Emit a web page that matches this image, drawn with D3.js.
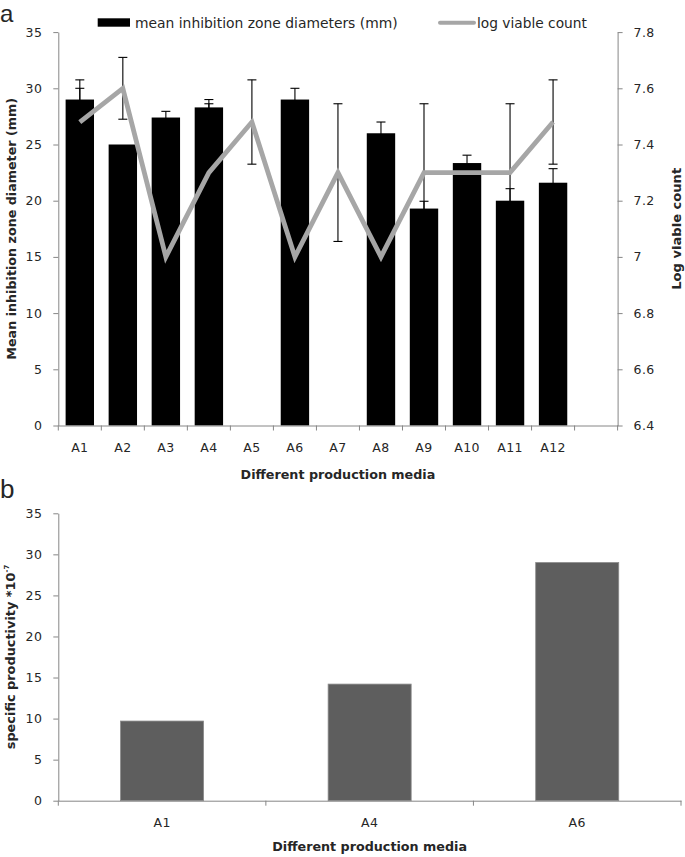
<!DOCTYPE html>
<html>
<head>
<meta charset="utf-8">
<script src="https://cdn.jsdelivr.net/npm/d3@7"></script>
<style>
  html, body { margin: 0; padding: 0; background: #fff; }
  svg { display: block; }
  text { font-family: "DejaVu Sans", sans-serif; fill: #262626; }
</style>
</head>
<body>
<svg id="chart" width="685" height="857"></svg>
<script>
// ---------- data ----------
const categories = ["A1","A2","A3","A4","A5","A6","A7","A8","A9","A10","A11","A12"];
const inhibition = [29, 25, 27.4, 28.3, 0, 29, 0, 26, 19.3, 23.35, 20, 21.6];
const inhibitionErr = [1.0, 0, 0.55, 0.7, 0, 1.0, 0, 1.0, 0.65, 0.7, 1.07, 1.25];
const logCount = [7.48, 7.6, 7.0, 7.3, 7.48, 7.0, 7.3, 7.0, 7.3, 7.3, 7.3, 7.48];
const logErr = [0.15, 0.11, 0, 0.245, 0.15, 0, 0.245, 0, 0.245, 0, 0.245, 0.15];
const leftTicks = [0, 5, 10, 15, 20, 25, 30, 35];
const rightTicks = [6.4, 6.6, 6.8, 7.0, 7.2, 7.4, 7.6, 7.8];
const rightTickLabels = ["6.4", "6.6", "6.8", "7", "7.2", "7.4", "7.6", "7.8"];

const categoriesB = ["A1", "A4", "A6"];
const productivity = [9.7, 14.2, 29.0];
const bTicks = [0, 5, 10, 15, 20, 25, 30, 35];

// ---------- helpers ----------
const svg = d3.select("#chart");
const AXIS = "#868686";
function fitText(sel, target) {
  const base = parseFloat(sel.style("font-size"));
  const len = sel.node().getComputedTextLength();
  sel.style("font-size", (base * target / len) + "px");
}

// ================= Chart a =================
const A = { left: 58.3, right: 617.6, top: 32.1, bottom: 425.5 };
const xA = d3.scaleBand().domain(categories.concat(["_blank"]))
  .range([A.left, A.right]).paddingInner(0.34).paddingOuter(0.17);
const yA = d3.scaleLinear().domain([0, 35]).range([A.bottom, A.top]);
const y2A = d3.scaleLinear().domain([6.4, 7.8]).range([A.bottom, A.top]);

const gA = svg.append("g");

// bars
gA.selectAll("rect.bar").data(categories).enter().append("rect")
  .attr("x", d => xA(d)).attr("width", xA.bandwidth())
  .attr("y", (d, i) => yA(inhibition[i]))
  .attr("height", (d, i) => yA(0) - yA(inhibition[i]))
  .attr("fill", "#000");

// error bars helper
function errBars(g, vals, errs, scale) {
  categories.forEach((c, i) => {
    if (!errs[i]) return;
    const cx = xA(c) + xA.bandwidth() / 2;
    const y1 = scale(vals[i] + errs[i]), y0 = scale(vals[i] - errs[i]);
    g.append("line").attr("x1", cx).attr("x2", cx).attr("y1", y1).attr("y2", y0)
      .attr("stroke", "#000").attr("stroke-width", 1.1);
    [y1, y0].forEach(yy => g.append("line")
      .attr("x1", cx - 4.5).attr("x2", cx + 4.5).attr("y1", yy).attr("y2", yy)
      .attr("stroke", "#000").attr("stroke-width", 1.1));
  });
}
errBars(gA, inhibition, inhibitionErr, yA);
errBars(gA, logCount, logErr, y2A);

// line
const line = d3.line()
  .x((d, i) => xA(categories[i]) + xA.bandwidth() / 2)
  .y(d => y2A(d));
gA.append("path").datum(logCount).attr("d", line)
  .attr("fill", "none").attr("stroke", "#a6a6a6").attr("stroke-width", 4.8)
  .attr("stroke-linejoin", "miter");

// left axis
const axL = gA.append("g").attr("transform", `translate(${A.left},0)`)
  .call(d3.axisLeft(yA).tickValues(leftTicks).tickSize(5).tickSizeOuter(0).tickPadding(11));
// right axis
const axR = gA.append("g").attr("transform", `translate(${A.right},0)`)
  .call(d3.axisRight(y2A).tickValues(rightTicks).tickSize(5).tickSizeOuter(0).tickPadding(11)
    .tickFormat((d, i) => rightTickLabels[i]));
// bottom axis (labels only) + boundary ticks
const axB = gA.append("g").attr("transform", `translate(0,${A.bottom})`)
  .call(d3.axisBottom(xA).tickSize(0).tickPadding(18).tickFormat(d => d === "_blank" ? "" : d));
axB.select(".domain").attr("stroke", AXIS);
d3.range(xA.domain().length + 1).forEach(k => {
  const xx = A.left + k * xA.step();
  axB.append("line").attr("x1", xx).attr("x2", xx).attr("y1", 0).attr("y2", 5).attr("stroke", AXIS);
});
[axL, axR, axB].forEach(ax => {
  ax.selectAll(".domain").attr("stroke", AXIS);
  ax.selectAll(".tick line").attr("stroke", AXIS);
  ax.selectAll("text").style("font-family", "DejaVu Sans").style("font-size", "12.5px")
    .attr("fill", "#262626").style("letter-spacing", "0.4px");
});

// titles
const tX = gA.append("text").attr("x", (A.left + A.right) / 2).attr("y", 474)
  .attr("text-anchor", "middle").attr("dominant-baseline", "central")
  .style("font-weight", "bold").style("font-size", "13px").text("Different production media");
fitText(tX, 195);
const tL = gA.append("text").attr("transform", `translate(11,${(A.top + A.bottom) / 2}) rotate(-90)`)
  .attr("text-anchor", "middle").attr("dominant-baseline", "central")
  .style("font-weight", "bold").style("font-size", "13px").text("Mean inhibition zone diameter (mm)");
fitText(tL, 262);
const tR = gA.append("text").attr("transform", `translate(676,${(A.top + A.bottom) / 2}) rotate(-90)`)
  .attr("text-anchor", "middle").attr("dominant-baseline", "central")
  .style("font-weight", "bold").style("font-size", "13px").text("Log viable count");
fitText(tR, 122);

// legend
gA.append("rect").attr("x", 97.7).attr("y", 18.3).attr("width", 32.3).attr("height", 8.4).attr("fill", "#000");
const lg1 = gA.append("text").attr("x", 135).attr("y", 23).attr("dominant-baseline", "central")
  .style("font-size", "13px").text("mean inhibition zone diameters (mm)");
fitText(lg1, 263);
gA.append("line").attr("x1", 440).attr("x2", 474).attr("y1", 22.7).attr("y2", 22.7)
  .attr("stroke", "#a6a6a6").attr("stroke-width", 4).attr("stroke-linecap", "round");
const lg2 = gA.append("text").attr("x", 477).attr("y", 23).attr("dominant-baseline", "central")
  .style("font-size", "13px").text("log viable count");
fitText(lg2, 110);

// panel label
svg.append("text").attr("x", 0).attr("y", 21.5)
  .style("font-family", "Liberation Sans").style("font-size", "24px").attr("fill", "#000").text("a");

// ================= Chart b =================
const B = { left: 58.3, right: 681, top: 513.3, bottom: 800.7 };
const xB = d3.scaleBand().domain(categoriesB).range([B.left, B.right]).paddingInner(0.6).paddingOuter(0.3);
const yB = d3.scaleLinear().domain([0, 35]).range([B.bottom, B.top]);
const gB = svg.append("g");

gB.selectAll("rect.bar").data(categoriesB).enter().append("rect")
  .attr("x", d => xB(d)).attr("width", xB.bandwidth())
  .attr("y", (d, i) => yB(productivity[i]))
  .attr("height", (d, i) => yB(0) - yB(productivity[i]))
  .attr("fill", "#5e5e5e").attr("stroke", "#8a8a8a").attr("stroke-width", 0.8);

const bL = gB.append("g").attr("transform", `translate(${B.left},0)`)
  .call(d3.axisLeft(yB).tickValues(bTicks).tickSize(5).tickSizeOuter(0).tickPadding(11));
const bB = gB.append("g").attr("transform", `translate(0,${B.bottom})`)
  .call(d3.axisBottom(xB).tickSize(0).tickPadding(17));
d3.range(categoriesB.length + 1).forEach(k => {
  const xx = B.left + k * xB.step();
  bB.append("line").attr("x1", xx).attr("x2", xx).attr("y1", 0).attr("y2", 5).attr("stroke", AXIS);
});
[bL, bB].forEach(ax => {
  ax.selectAll(".domain").attr("stroke", AXIS);
  ax.selectAll(".tick line").attr("stroke", AXIS);
  ax.selectAll("text").style("font-family", "DejaVu Sans").style("font-size", "12.5px")
    .attr("fill", "#262626").style("letter-spacing", "0.4px");
});

const bX = gB.append("text").attr("x", (B.left + B.right) / 2).attr("y", 846)
  .attr("text-anchor", "middle").attr("dominant-baseline", "central")
  .style("font-weight", "bold").style("font-size", "13px").text("Different production media");
fitText(bX, 195);
const bT = gB.append("text").attr("transform", `translate(10,${(B.top + B.bottom) / 2}) rotate(-90)`)
  .attr("text-anchor", "middle").attr("dominant-baseline", "central")
  .style("font-weight", "bold").style("font-size", "11px");
bT.append("tspan").text("specific productivity *10");
bT.append("tspan").attr("dy", "-0.45em").style("font-size", "7px").text("-7");
fitText(bT, 186);

svg.append("text").attr("x", 0).attr("y", 497.5)
  .style("font-family", "Liberation Sans").style("font-size", "26px").attr("fill", "#000").text("b");
</script>
</body>
</html>
